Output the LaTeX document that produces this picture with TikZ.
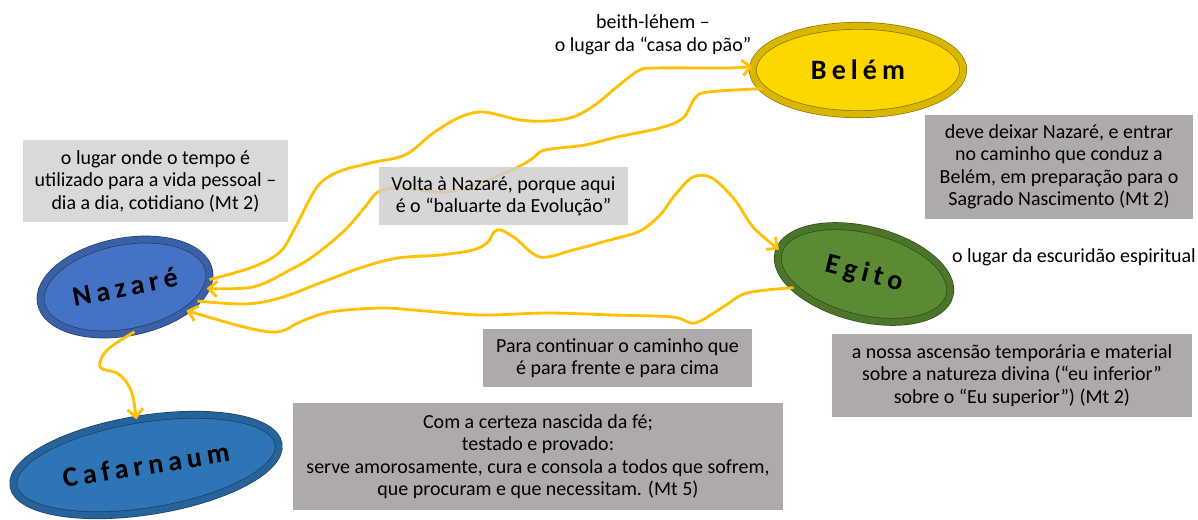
\documentclass[tikz,border=0pt]{standalone}
\usepackage{fontspec}
\setmainfont{Carlito}
\newfontfamily\placefont[LetterSpace=18]{Carlito}
\usepackage{tikz}
\usetikzlibrary{shapes.geometric,arrows.meta}

\definecolor{nazblue}{HTML}{4472C4}
\definecolor{cafblue}{HTML}{2E75B6}
\definecolor{belgold}{HTML}{FFD700}
\definecolor{egigreen}{HTML}{5A8A32}
\definecolor{waygold}{HTML}{FFC000}
\definecolor{notelight}{HTML}{D9D9D9}
\definecolor{notemid}{HTML}{D0CECE}
\definecolor{notedark}{HTML}{AEAAAA}

\newcommand{\notefont}{\fontsize{14.2}{16}\selectfont}

\tikzset{
	place/.style={ellipse,draw=#1!55!black,line width=0.5pt,double=#1!85!black,double distance=4.5pt,
		fill=#1,inner sep=0pt,font=\placefont\bfseries\fontsize{20}{22}\selectfont},
	note/.style={fill=#1,inner sep=0pt,align=center,font=\notefont},
	way/.style={draw=waygold,line width=2pt,-{Straight Barb[length=6pt,width=11pt]},tension=0.55}
}

\begin{document}
\begin{tikzpicture}[x=0.025cm,y=-0.025cm]
		\useasboundingbox (0,0) rectangle (1198,520);
%		\draw[help lines,step=50] (0,0) grid (1198,520);
		\path (125,287) coordinate (naz_c);
		\path (858,70) coordinate (bel_c);
		\path (864,274) coordinate (egi_c);
		\path (146,465) coordinate (caf_c);

		\path (155.5,181) coordinate (lugar);
		\path (653,35) coordinate (casa);
		\path (1059,167) coordinate (deixar);
		\path (1074,257) coordinate (trevas);
		\path (503.5,196) coordinate (volta);
		\path (617.5,358) coordinate (frente);
		\path (1012,375.5) coordinate (ascensao);
		\path (538,456.5) coordinate (certeza);

		% places
		\draw (naz_c) node[place=nazblue,rotate=11,minimum width=4.28cm,minimum height=2.27cm] (naz) {Nazaré};
		\draw (bel_c) node[place=belgold,minimum width=5.26cm,minimum height=2.21cm] (bel) {Belém};
		\draw (egi_c) node[place=egigreen,rotate=-14,minimum width=4.41cm,minimum height=2.21cm] (egi) {Egito};
		\draw (caf_c) node[place=cafblue,rotate=9,minimum width=6.71cm,minimum height=2.31cm] (caf) {Cafarnaum};

		% ways
		\draw[way] plot[smooth] coordinates {(naz.-6) (253,267) (280,252) (295,228) (317,187) (338,172) (370,163)
			(405,155) (432,134) (458,118) (483,112) (520,120) (548,121) (573,117) (595,105) (618,86) (638,71)
			(655,68) (728,68) (bel.178)};
		\draw[way] plot[smooth] coordinates {(bel.191) (708,92) (695,98) (683,118) (660,128) (617,137) (585,145)
			(545,150) (533,158) (518,167) (480,183) (445,192) (400,188) (378,192) (365,207) (345,230) (315,255)
			(290,270) (253,287) (naz.-12)};
		\draw[way] plot[smooth] coordinates {(naz.-22) (245,304) (280,298) (320,283) (363,267) (398,258) (440,255)
			(473,250) (488,242) (494,232) (501,230) (515,238) (540,257) (573,250) (610,240) (640,231) (660,215)
			(675,195) (693,177) (712,178) (735,200) (753,227) (egi.178)};
		\draw[way] plot[smooth] coordinates {(egi.205) (747,293) (723,307) (695,323) (673,317) (613,315) (547,313)
			(480,315) (413,310) (380,308) (330,312) (300,322) (285,330) (270,332) (240,326) (naz.-32)};
		\draw[way] plot[smooth] coordinates {(naz.-89) (107,350) (100,367) (117,373) (127,383) (133,397) (caf.93)};

		% notes
		\draw (lugar) node[note=notelight,minimum width=6.62cm,minimum height=2.05cm] (n_lugar)
			{o lugar onde o tempo é\\utilizado para a vida pessoal –\\dia a dia, cotidiano (Mt 2)};
		\draw (casa) node[align=center,font=\notefont] (n_casa) {beith-léhem –\\o lugar da “casa do pão”};
		\draw (deixar) node[note=notedark,minimum width=6.7cm,minimum height=2.6cm] (n_deixar)
			{deve deixar Nazaré, e entrar\\no caminho que conduz a\\Belém, em preparação para o\\Sagrado Nascimento (Mt 2)};
		\draw (trevas) node[font=\notefont] (n_trevas) {o lugar da escuridão espiritual};
		\draw (volta) node[note=notemid,fill opacity=0.85,text opacity=1,minimum width=6.22cm,minimum height=1.45cm] (n_volta)
			{Volta à Nazaré, porque aqui\\é o “baluarte da Evolução”};
		\draw (frente) node[note=notedark,minimum width=6.72cm,minimum height=1.45cm] (n_frente)
			{Para continuar o caminho que\\é para frente e para cima};
		\draw (ascensao) node[note=notedark,minimum width=9cm,minimum height=2.08cm] (n_ascensao)
			{a nossa ascensão temporária e material\\sobre a natureza divina (“eu inferior”\\sobre o “Eu superior”) (Mt 2)};
		\draw (certeza) node[note=notedark,minimum width=12.25cm,minimum height=2.68cm] (n_certeza)
			{Com a certeza nascida da fé;\\testado e provado:\\serve amorosamente, cura e consola a todos que sofrem,\\que procuram e que necessitam. (Mt 5)};

	\end{tikzpicture}
\end{document}
